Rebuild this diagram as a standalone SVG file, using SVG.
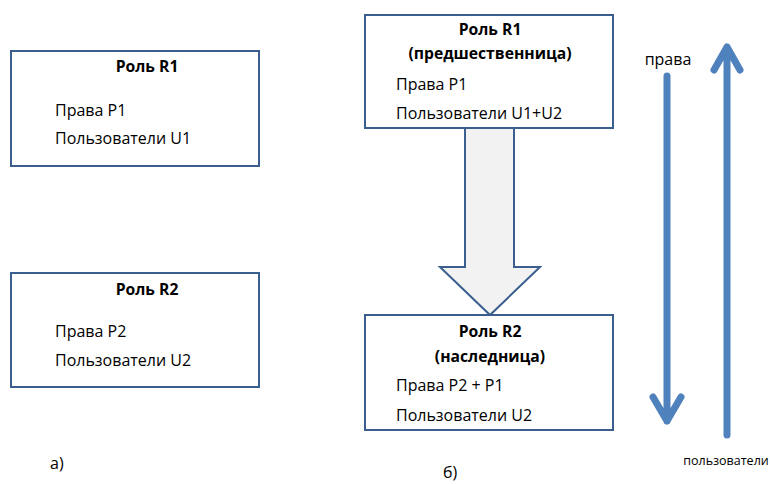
<svg xmlns="http://www.w3.org/2000/svg" width="770" height="484" viewBox="0 0 770 484">
<style>
.box{fill:#fff;stroke:#3A5F8F;stroke-width:2}
.t{font-family:"Open Sans","Liberation Sans",sans-serif;font-size:16px;fill:#000}
.b{font-weight:bold;text-anchor:middle;font-size:15.7px}
.big{fill:#F2F2F2;stroke:#3A5F8F;stroke-width:2;stroke-linejoin:miter}
.ln{fill:none;stroke:#4F81BD;stroke-width:7;stroke-linecap:round;stroke-linejoin:round}
</style>
<rect width="770" height="484" fill="#fff"/>
<g id="connectors">
<path class="big" d="M465,128 L514,128 L514,267 L540,267 L490,315 L440,267 L465,267 Z"/>
<path class="ln" d="M667,76 L667,421 M653,397 L667,421 L681,397"/>
<path class="ln" d="M727,435 L727,47 M714,70 L727,47 L740,70"/>
</g>
<g id="r1a">
<rect class="box" x="11" y="51" width="248" height="115"/>
<text class="t b" x="147" y="72">Роль R1</text>
<text class="t" x="55" y="116">Права P1</text>
<text class="t" x="55" y="144">Пользователи U1</text>
</g>
<g id="r2a">
<rect class="box" x="11" y="273" width="248" height="114"/>
<text class="t b" x="147" y="295">Роль R2</text>
<text class="t" x="55" y="337">Права P2</text>
<text class="t" x="55" y="366">Пользователи U2</text>
</g>
<g id="r1b">
<rect class="box" x="365" y="15" width="248" height="113"/>
<text class="t b" x="490" y="35">Роль R1</text>
<text class="t b" x="490" y="59">(предшественница)</text>
<text class="t" x="396" y="90">Права P1</text>
<text class="t" x="396" y="119">Пользователи U1+U2</text>
</g>
<g id="r2b">
<rect class="box" x="365" y="315" width="248" height="115"/>
<text class="t b" x="490" y="337">Роль R2</text>
<text class="t b" x="490" y="362">(наследница)</text>
<text class="t" x="396" y="391">Права P2 + P1</text>
<text class="t" x="396" y="421">Пользователи U2</text>
</g>
<text class="t" x="50" y="469">а)</text>
<text class="t" x="443" y="478">б)</text>
<text class="t" x="668" y="65" style="text-anchor:middle">права</text>
<text class="t" x="726" y="465" style="text-anchor:middle;font-size:12.5px">пользователи</text>
</svg>
